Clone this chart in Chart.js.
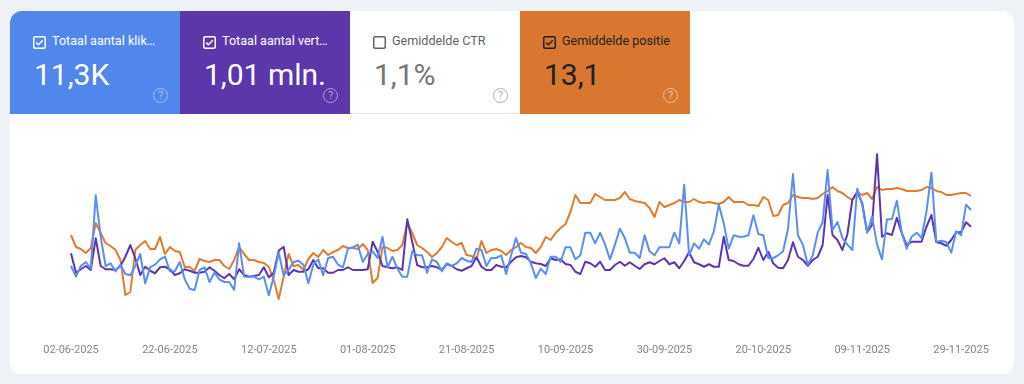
<!DOCTYPE html>
<html>
<head>
<meta charset="utf-8">
<script src="https://cdn.jsdelivr.net/npm/chart.js@4.4.1/dist/chart.umd.min.js"></script>
<style>
  body { margin: 0; width: 1024px; height: 384px; background: #eef2f7; font-family: Roboto, sans-serif; overflow: hidden; position: relative; }
  .panel { position: absolute; left: 10px; top: 11px; width: 1004px; height: 363px; background: #fff; border-radius: 12px; overflow: hidden; }
  .card { position: absolute; top: 0; width: 170px; height: 103px; }
  .card .box { position: absolute; left: 23px; top: 25px; width: 13px; height: 13px; }
  .card .label { position: absolute; left: 42px; top: 22px; font-size: 12.6px; line-height: 16px; white-space: nowrap; }
  .card .label.cut { overflow: hidden; text-overflow: ellipsis; max-width: 106px; }
  .card .value { position: absolute; left: 24px; top: 46px; font-size: 30px; line-height: 36px; }
  .card .help { position: absolute; left: 143px; top: 77px; width: 13px; height: 13px; border: 1.3px solid currentColor; border-radius: 50%; font-size: 11px; line-height: 13px; text-align: center; opacity: 0.5; }
  .clicks { left: 0; background: #5186ec; color: #fff; }
  .impr { left: 170px; background: #5c36ab; color: #fff; }
  .ctr { left: 340px; background: #fff; color: #5f6368; border-bottom: 1px solid #e3e3e3; height: 102px; }
  .ctr .value { color: #757575; }
  .pos { left: 510px; background: #d97730; color: #202124; }
  .pos .help { color: #fff; opacity: 0.55; }
  #chartWrap { position: absolute; left: 0; top: 130px; width: 1024px; height: 240px; }
</style>
</head>
<body>
<div class="panel">
  <div class="card clicks">
    <svg class="box" viewBox="0 0 13 13"><rect x="0.75" y="0.75" width="11.5" height="11.5" rx="1.5" fill="none" stroke="currentColor" stroke-width="1.5"/><path d="M3.2 6.6 L5.4 8.8 L9.8 4.2" fill="none" stroke="currentColor" stroke-width="1.5"/></svg>
    <div class="label cut">Totaal aantal klikken</div>
    <div class="value">11,3K</div>
    <div class="help">?</div>
  </div>
  <div class="card impr">
    <svg class="box" viewBox="0 0 13 13"><rect x="0.75" y="0.75" width="11.5" height="11.5" rx="1.5" fill="none" stroke="currentColor" stroke-width="1.5"/><path d="M3.2 6.6 L5.4 8.8 L9.8 4.2" fill="none" stroke="currentColor" stroke-width="1.5"/></svg>
    <div class="label cut">Totaal aantal vertoningen</div>
    <div class="value">1,01 mln.</div>
    <div class="help">?</div>
  </div>
  <div class="card ctr">
    <svg class="box" viewBox="0 0 13 13"><rect x="0.75" y="0.75" width="11.5" height="11.5" rx="1.5" fill="none" stroke="currentColor" stroke-width="1.5"/></svg>
    <div class="label">Gemiddelde CTR</div>
    <div class="value">1,1%</div>
    <div class="help">?</div>
  </div>
  <div class="card pos">
    <svg class="box" viewBox="0 0 13 13"><rect x="0.75" y="0.75" width="11.5" height="11.5" rx="1.5" fill="none" stroke="currentColor" stroke-width="1.5"/><path d="M3.2 6.6 L5.4 8.8 L9.8 4.2" fill="none" stroke="currentColor" stroke-width="1.5"/></svg>
    <div class="label">Gemiddelde positie</div>
    <div class="value">13,1</div>
    <div class="help">?</div>
  </div>
</div>
<div id="chartWrap"><canvas id="perfChart"></canvas></div>

<script>
// daily values, 02-06-2025 .. 01-12-2025
const startDate = '2025-06-02';
const dayCount = 183;
const tickLabels = ['02-06-2025', '22-06-2025', '12-07-2025', '01-08-2025', '21-08-2025',
  '10-09-2025', '30-09-2025', '20-10-2025', '09-11-2025', '29-11-2025'];

const clicks = [
  48, 40, 48, 51, 46, 101, 70, 48, 50, 44,
  49, 42, 41, 48, 57, 35, 47, 49, 53, 55,
  44, 44, 51, 38, 31, 30, 45, 47, 36, 43,
  38, 36, 36, 30, 65, 40, 40, 40, 38, 40,
  26, 40, 58, 41, 45, 51, 52, 49, 35, 49,
  53, 41, 54, 55, 49, 47, 61, 62, 64, 51,
  57, 59, 54, 70, 47, 55, 46, 40, 40, 59,
  56, 56, 43, 53, 51, 44, 50, 48, 50, 54,
  52, 51, 61, 60, 48, 54, 54, 56, 42, 56,
  69, 58, 57, 50, 39, 46, 42, 55, 55, 51,
  62, 62, 53, 56, 73, 73, 65, 73, 64, 53,
  64, 76, 69, 58, 58, 54, 71, 59, 56, 62,
  62, 62, 73, 65, 109, 56, 65, 61, 68, 64,
  74, 94, 80, 61, 71, 70, 70, 71, 86, 72,
  71, 54, 54, 56, 59, 76, 117, 71, 64, 49,
  56, 73, 81, 120, 75, 81, 69, 64, 60, 106,
  94, 73, 85, 64, 53, 83, 83, 97, 73, 61,
  70, 73, 69, 89, 118, 66, 67, 66, 58, 74,
  71, 94, 90
];

const impressions = [
  6140, 4580, 4860, 5120, 4800, 7340, 5120, 4860, 4860, 4800,
  5120, 5860, 6800, 5740, 4400, 5060, 4740, 4540, 5020, 5060,
  4860, 4400, 4540, 4860, 4740, 4580, 4580, 4660, 5020, 4740,
  4400, 4140, 4480, 4060, 4860, 4400, 4260, 4320, 4400, 5020,
  4220, 4580, 6340, 6660, 4400, 4800, 4660, 4660, 4860, 5600,
  4940, 4940, 4580, 4580, 4800, 4800, 5020, 4800, 4800, 4800,
  4860, 7060, 6260, 5120, 5020, 4940, 5020, 4800, 8860, 7060,
  5200, 5020, 5020, 5120, 5020, 4800, 5280, 5120, 4860, 4740,
  4940, 5120, 5820, 5060, 4800, 4800, 5200, 5060, 5020, 5460,
  5820, 5920, 5820, 5460, 5340, 5280, 5120, 5740, 5600, 5660,
  5280, 5200, 4660, 4480, 5460, 5340, 5060, 5460, 4800, 4800,
  5200, 5460, 5140, 5420, 5140, 4880, 5260, 5420, 5260, 5520,
  5740, 5260, 5420, 4940, 5520, 6220, 5420, 5260, 5060, 5260,
  5060, 5060, 7460, 5600, 5520, 5260, 5140, 5140, 5680, 6580,
  5600, 6260, 5340, 4980, 4940, 5600, 7020, 5860, 5600, 5140,
  5600, 5860, 6800, 10800, 7600, 7200, 6400, 7660, 10400, 11060,
  10140, 7820, 8400, 14060, 7460, 7740, 7600, 8980, 7740, 6800,
  7060, 7060, 7060, 8260, 9200, 7020, 6940, 6740, 7200, 7820,
  7820, 8620, 8260
];

const position = [
  13.5, 14.7, 14.9, 15.3, 14.8, 12.3, 13.3, 14.3, 14.6, 15.0,
  16.0, 19.5, 19.2, 15.0, 14.5, 14.1, 14.9, 14.9, 13.7, 15.4,
  14.7, 15.1, 15.2, 16.7, 16.7, 17.1, 15.9, 16.1, 16.2, 16.0,
  16.0, 16.6, 16.9, 16.0, 14.7, 15.4, 16.0, 16.0, 16.2, 16.3,
  16.7, 18.0, 19.9, 17.7, 15.4, 16.6, 16.5, 17.0, 15.9, 15.3,
  15.7, 15.0, 15.5, 15.2, 15.0, 14.6, 14.8, 14.8, 14.9, 14.4,
  15.0, 18.3, 17.8, 14.7, 14.8, 15.1, 15.0, 14.5, 12.3, 13.3,
  14.5, 14.8, 15.2, 15.7, 15.3, 14.7, 13.8, 14.2, 14.5, 14.3,
  15.5, 15.6, 15.9, 14.1, 15.3, 15.0, 14.9, 15.1, 15.5, 15.0,
  14.7, 14.3, 14.7, 14.8, 15.3, 14.7, 13.7, 14.0, 13.3, 12.8,
  12.4, 11.2, 9.5, 10.3, 10.3, 10.3, 9.4, 9.7, 10.0, 10.0,
  10.0, 9.8, 9.2, 9.9, 10.1, 10.2, 10.3, 10.8, 11.7, 10.2,
  10.7, 10.5, 10.3, 10.0, 10.2, 10.2, 9.9, 10.2, 10.3, 10.2,
  10.3, 10.4, 10.2, 9.7, 10.2, 10.2, 10.2, 10.5, 10.5, 10.6,
  9.7, 10.0, 11.6, 11.5, 10.5, 10.3, 9.5, 9.7, 9.8, 9.8,
  9.9, 9.8, 9.4, 9.1, 8.7, 9.1, 9.3, 9.7, 10.0, 9.2,
  9.5, 9.3, 9.9, 8.7, 9.0, 8.9, 8.9, 8.8, 8.9, 9.1,
  9.1, 9.1, 9.0, 8.7, 8.8, 9.1, 9.2, 9.5, 9.5, 9.4,
  9.3, 9.3, 9.6
];

function buildDates(start, count) {
  const out = [];
  const d = new Date(start + 'T12:00:00Z');
  for (let i = 0; i < count; i++) {
    const dd = String(d.getUTCDate()).padStart(2, '0');
    const mm = String(d.getUTCMonth() + 1).padStart(2, '0');
    out.push(dd + '-' + mm + '-' + d.getUTCFullYear());
    d.setUTCDate(d.getUTCDate() + 1);
  }
  return out;
}

const dates = buildDates(startDate, dayCount);

Chart.defaults.font.family = 'Roboto, sans-serif';

const lineStyle = { borderWidth: 2, pointRadius: 0, tension: 0, fill: false, borderJoinStyle: 'round' };

new Chart(document.getElementById('perfChart'), {
  type: 'line',
  data: {
    labels: dates,
    datasets: [
      { label: 'Klikken', data: clicks, borderColor: '#5a8ef2', yAxisID: 'yClicks', ...lineStyle },
      { label: 'Vertoningen', data: impressions, borderColor: '#5e35b1', yAxisID: 'yImpr', ...lineStyle },
      { label: 'Positie', data: position, borderColor: '#e07b30', yAxisID: 'yPos', ...lineStyle }
    ]
  },
  options: {
    responsive: true,
    maintainAspectRatio: false,
    animation: false,
    layout: { padding: { left: 71, right: 53, top: 0, bottom: 0 } },
    plugins: { legend: { display: false }, tooltip: { enabled: false } },
    scales: {
      x: {
        offset: false,
        grid: { display: false },
        border: { display: false },
        afterFit: (scale) => { scale.height = 40; },
        ticks: {
          autoSkip: false,
          maxRotation: 0,
          padding: 6,
          color: '#80868b',
          font: { size: 11 },
          callback: function (value) {
            const lbl = this.getLabelForValue(value);
            return tickLabels.includes(lbl) ? lbl : null;
          }
        }
      },
      yClicks: { display: false, min: 0, max: 150 },
      yImpr: { display: false, min: 0, max: 16000 },
      yPos: { display: false, min: 3, max: 23, reverse: true }
    }
  }
});
</script>
</body>
</html>
